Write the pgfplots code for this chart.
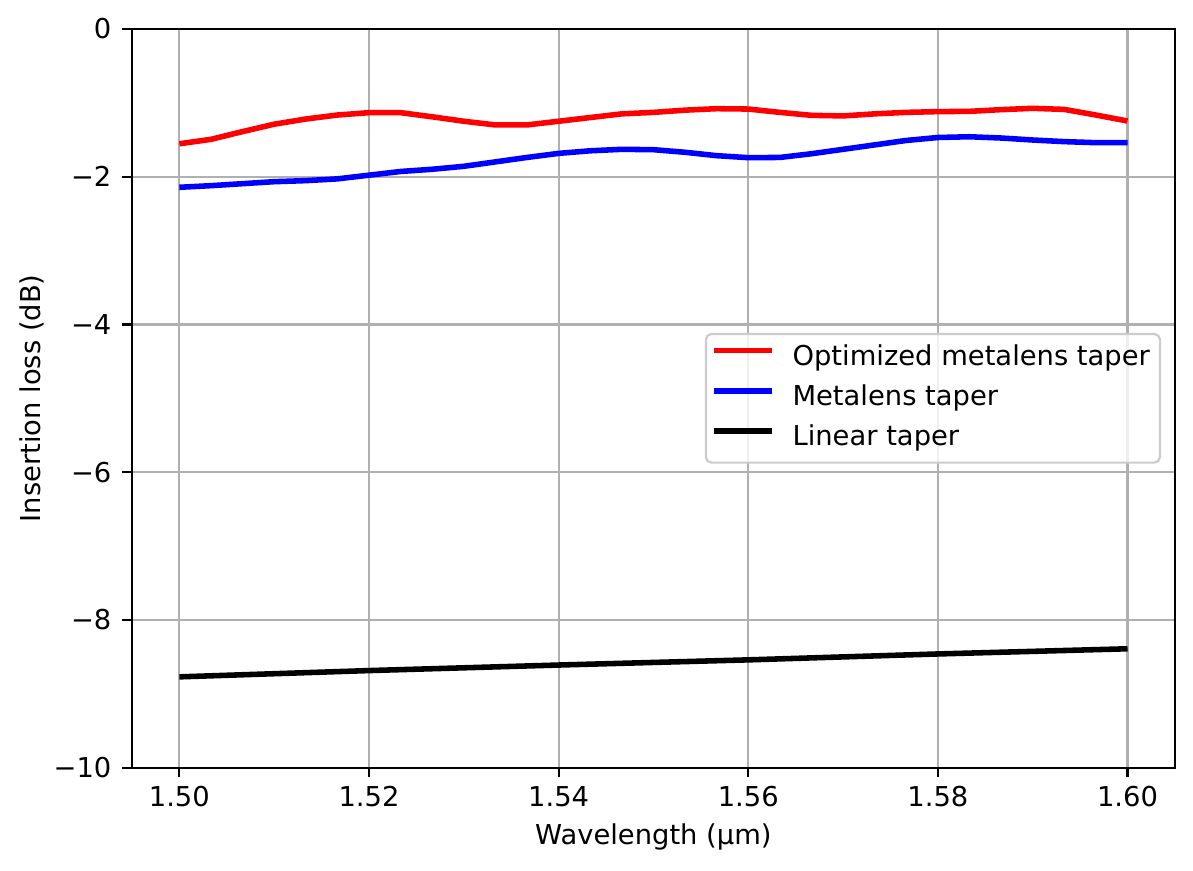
\documentclass[border=0pt]{standalone}
\usepackage{fontspec}
\setmainfont{DejaVu Sans}
\usepackage{pgfplots}
\pgfplotsset{compat=1.18}
\definecolor{gridgray}{HTML}{B0B0B0}
\definecolor{legendgray}{HTML}{CCCCCC}
\newcommand{\mplfont}{\fontsize{9.85}{12}\selectfont}
\begin{document}
\begin{tikzpicture}
\begin{axis}[
  scale only axis,
  width=375.5pt, height=266pt,
  xmin=1.495, xmax=1.605,
  ymin=-10, ymax=0,
  xtick={1.50,1.52,1.54,1.56,1.58,1.60},
  xticklabels={1.50,1.52,1.54,1.56,1.58,1.60},
  ytick={-10,-8,-6,-4,-2,0},
  yticklabels={−10,−8,−6,−4,−2,0},
  /pgf/number format/assume math mode=true,
  tick pos=left,
  tick align=outside,
  major tick length=3.5pt,
  every tick/.style={black, line width=0.8pt},
  axis line style={black, line width=0.8pt},
  grid=major,
  major grid style={gridgray, line width=0.8pt},
  xticklabel style={font=\mplfont, inner sep=0pt, anchor=base, yshift=-10.5pt},
  yticklabel style={font=\mplfont, inner sep=0pt, anchor=east, xshift=-3.7pt},
  xlabel={Wavelength (µm)},
  ylabel={Insertion loss (dB)},
  xlabel style={font=\mplfont, inner sep=0pt, at={(axis description cs:0.5,-0.1041)}, anchor=base},
  ylabel style={font=\mplfont, inner sep=0pt, at={(axis description cs:-0.08735,0.5)}, anchor=base, rotate=0},
  legend style={at={(axis description cs:1,0.5)}, xshift=-5pt, anchor=east,
    draw=legendgray, line width=0.8pt, rounded corners=2pt,
    fill=white, fill opacity=0.8, text opacity=1,
    inner xsep=3.6pt, inner ysep=4pt, row sep=5.2pt, column sep=6.4pt,
    nodes={inner sep=0pt, text height=7.3pt, text depth=2pt},
    font=\mplfont},
  legend cell align=left,
  legend image code/.code={\draw[#1, line width=2pt, rounded corners=0pt, overlay] (-1.8pt,2.65pt) -- (19.2pt,2.65pt);
     \path (0pt,2.65pt) -- (19.2pt,2.65pt);},
]
\addplot[red, line width=2pt, no markers] coordinates {
(1.500000,-1.555) (1.503333,-1.495) (1.506667,-1.390) (1.510000,-1.290)
(1.513333,-1.220) (1.516667,-1.166) (1.520000,-1.134) (1.523333,-1.134)
(1.526667,-1.190) (1.530000,-1.250) (1.533333,-1.300) (1.536667,-1.300)
(1.540000,-1.250) (1.543333,-1.200) (1.546667,-1.150) (1.550000,-1.130)
(1.553333,-1.100) (1.556667,-1.080) (1.560000,-1.085) (1.563333,-1.130)
(1.566667,-1.170) (1.570000,-1.178) (1.573333,-1.150) (1.576667,-1.130)
(1.580000,-1.120) (1.583333,-1.116) (1.586667,-1.093) (1.590000,-1.075)
(1.593333,-1.090) (1.596667,-1.166) (1.600000,-1.247)
};
\addlegendentry{Optimized metalens taper}
\addplot[blue, line width=2pt, no markers] coordinates {
(1.500000,-2.144) (1.503333,-2.122) (1.506667,-2.095) (1.510000,-2.068)
(1.513333,-2.054) (1.516667,-2.030) (1.520000,-1.980) (1.523333,-1.930)
(1.526667,-1.900) (1.530000,-1.860) (1.533333,-1.800) (1.536667,-1.740)
(1.540000,-1.685) (1.543333,-1.650) (1.546667,-1.630) (1.550000,-1.635)
(1.553333,-1.670) (1.556667,-1.716) (1.560000,-1.743) (1.563333,-1.740)
(1.566667,-1.690) (1.570000,-1.630) (1.573333,-1.570) (1.576667,-1.510)
(1.580000,-1.470) (1.583333,-1.460) (1.586667,-1.477) (1.590000,-1.504)
(1.593333,-1.526) (1.596667,-1.540) (1.600000,-1.540)
};
\addlegendentry{Metalens taper}
\addplot[black, line width=2pt, no markers] coordinates {
(1.50,-8.77) (1.52,-8.685) (1.54,-8.61) (1.56,-8.54) (1.58,-8.46) (1.60,-8.39)
};
\addlegendentry{Linear taper}
\end{axis}
\pgfresetboundingbox
\path ([xshift=-47.5pt,yshift=-37.1pt]current axis.south west) rectangle ([xshift=6.5pt,yshift=10.4pt]current axis.north east);
\end{tikzpicture}
\end{document}
